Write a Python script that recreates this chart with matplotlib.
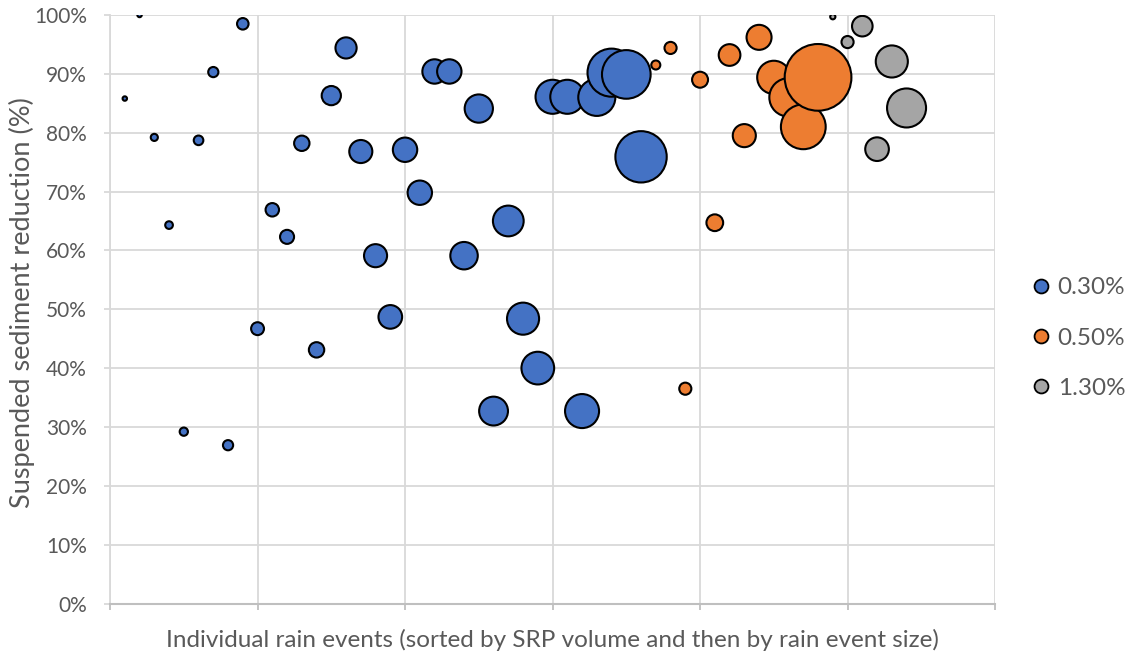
import matplotlib.pyplot as plt
from matplotlib.lines import Line2D
from matplotlib.ticker import FuncFormatter

plt.rcParams['font.family'] = ['Lato', 'DejaVu Sans']

# events sorted by SRP volume, then by rain event size
blue_x = list(range(1, 37))
blue_y = [85.8, 100.0, 79.2, 64.3, 29.2, 78.7, 90.3, 26.9, 98.5, 46.7,
          66.9, 62.3, 78.2, 43.1, 86.3, 94.4, 76.8, 59.1, 48.7, 77.1,
          69.8, 90.4, 90.4, 59.1, 84.1, 32.7, 65.0, 48.4, 40.0, 86.1,
          86.1, 32.7, 86.0, 90.2, 89.9, 75.9]
blue_rain = [0.44, 0.44, 1.14, 1.33, 1.54, 2.08, 2.34, 2.34, 3.0, 3.74,
             4.08, 4.44, 5.33, 5.33, 8.33, 10.1, 12.0, 12.0, 12.6, 13.4,
             13.4, 13.4, 13.4, 17.0, 18.0, 18.75, 21.3, 23.2, 24.1, 26.1,
             26.1, 26.1, 31.0, 52.1, 53.3, 59.4]

orange_x = list(range(37, 49))
orange_y = [91.5, 94.4, 36.5, 89.0, 64.7, 93.2, 79.5, 96.2, 89.4, 86.0, 81.0, 89.4]
orange_rain = [1.84, 3.31, 3.31, 5.74, 6.31, 10.6, 12.0, 14.1, 24.9, 33.3, 45.2, 100.3]

gray_x = list(range(49, 55))
gray_y = [99.7, 95.4, 98.1, 77.2, 92.1, 84.2]
gray_rain = [0.61, 3.31, 9.54, 12.6, 23.2, 34.3]

labels = ['0.30%', '0.50%', '1.30%']
colors = ['#4472C4', '#ED7D31', '#A5A5A5']
k = 23  # bubble scale

fig = plt.figure(figsize=(11.31, 6.57), dpi=100)
ax = fig.add_axes([0.0973, 0.0814, 0.7825, 0.8958])

series = [(blue_x, blue_y, blue_rain), (orange_x, orange_y, orange_rain), (gray_x, gray_y, gray_rain)]
for (xs, ys, rs), c in zip(series, colors):
    ax.scatter(xs, ys, s=[r * k for r in rs], color=c, edgecolor='black', linewidth=1.5, zorder=3)

ax.set_xlim(0, 60)
ax.set_ylim(0, 100)
ax.set_xticks(range(0, 61, 10))
ax.set_xticklabels([])
ax.set_yticks(range(0, 101, 10))
ax.yaxis.set_major_formatter(FuncFormatter(lambda v, p: f'{v:.0f}%'))
ax.grid(True, color='#D9D9D9', linewidth=1.3)
ax.set_axisbelow(True)

for s in ['top', 'right']:
    ax.spines[s].set_visible(False)
ax.spines['left'].set_color('#D9D9D9')
ax.spines['left'].set_linewidth(1.3)
ax.spines['bottom'].set_color('#BFBFBF')
ax.spines['bottom'].set_linewidth(1.5)
ax.tick_params(axis='x', length=4.5, width=1.3, color='#BFBFBF')
ax.tick_params(axis='y', length=4.5, width=1.3, color='#D9D9D9', labelsize=15, labelcolor='#595959', pad=12)

ax.set_ylabel('Suspended sediment reduction (%)', fontsize=19.5, color='#595959')
ax.yaxis.set_label_coords(-0.085, 0.512)
ax.set_xlabel('Individual rain events (sorted by SRP volume and then by rain event size)',
              fontsize=17.5, color='#595959', labelpad=10)

handles = [Line2D([], [], marker='o', linestyle='', markersize=10, markerfacecolor=c,
                  markeredgecolor='black', markeredgewidth=1.3) for c in colors]
leg = fig.legend(handles, labels, loc='center left', bbox_to_anchor=(0.89, 0.4855),
                 frameon=False, fontsize=17.5, labelspacing=1.2, handletextpad=0.2,
                 handlelength=1.0)
for t in leg.get_texts():
    t.set_color('#595959')

fig.savefig('out.png', dpi=100)
